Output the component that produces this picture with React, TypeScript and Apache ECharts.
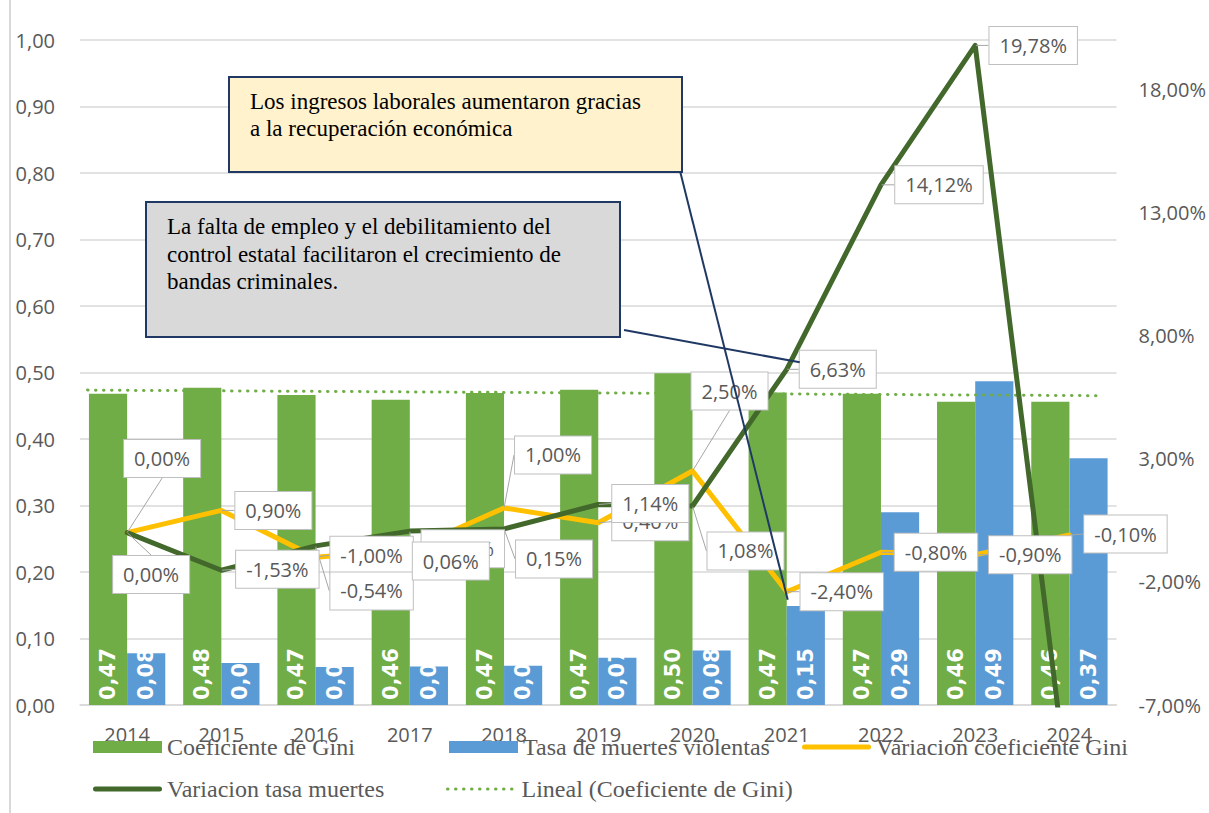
import { useEffect, useRef } from 'react';
import * as echarts from 'echarts';

const years = ['2014', '2015', '2016', '2017', '2018', '2019', '2020', '2021', '2022', '2023', '2024'];
const gini = [0.468, 0.477, 0.466, 0.459, 0.469, 0.474, 0.499, 0.470, 0.468, 0.456, 0.456];
const tasa = [0.078, 0.063, 0.057, 0.058, 0.059, 0.071, 0.082, 0.149, 0.290, 0.487, 0.371];
const varGini = [0.0, 0.9, -1.0, -0.7, 1.0, 0.4, 2.5, -2.4, -0.8, -0.9, -0.1];
const varTasa = [0.0, -1.53, -0.54, 0.06, 0.15, 1.14, 1.08, 6.63, 14.12, 19.78, -10.9];
const rightTickValues = [-7, -2, 3, 8, 13, 18];

const NAME_GINI = 'Coeficiente de Gini';
const NAME_TASA = 'Tasa de muertes violentas';
const NAME_VGINI = 'Variacion coeficiente Gini';
const NAME_VTASA = 'Variacion tasa muertes';
const NAME_TREND = 'Lineal (Coeficiente de Gini)';

// label placement (pixel offsets from each point) – layout, not data
const yellowLabelOffsets = [[35, -74], [52, 0], [56, -2], [53, -1], [49, -53], [52, -1], [37, -80], [55, 0], [55, 0], [55, 0], [56, -1]];
const greenLabelOffsets = [[24, 42], [56, -1], [56, 45], [41, 30], [50, 30], [52, -1], [53, 45], [51, 0], [58, 0], [58, 0], [0, 0]];

// legend slots (layout)
const legendSlots = [
  { name: NAME_GINI, left: 88, top: 730, kind: 'bar' },
  { name: NAME_TASA, left: 444, top: 730, kind: 'bar' },
  { name: NAME_VGINI, left: 797, top: 730, kind: 'line' },
  { name: NAME_VTASA, left: 88, top: 772, kind: 'line' },
  { name: NAME_TREND, left: 441, top: 772, kind: 'trend' },
];

const fmt2 = (v: number) => v.toFixed(2).replace('.', ',');
const pct = (v: number) => fmt2(v) + '%';

function linearFit(values: number[]) {
  const n = values.length;
  const mx = (n - 1) / 2;
  const my = values.reduce((a, b) => a + b, 0) / n;
  let sxy = 0;
  let sxx = 0;
  values.forEach((v, i) => {
    sxy += (i - mx) * (v - my);
    sxx += (i - mx) * (i - mx);
  });
  const slope = sxy / sxx;
  return (x: number) => my + slope * (x - mx);
}

const trend = linearFit(gini);
const trendStart = -0.42;
const trendEnd = 10.32;

const axisFont = 'Open Sans';
const grey = '#595959';
const gridColor = '#D9D9D9';
const C_GINI = '#70AD47';
const C_TASA = '#5B9BD5';
const C_VGINI = '#FFC000';
const C_VTASA = '#43682B';

const pointLabel = {
  show: true,
  position: 'inside',
  formatter: (p: any) => pct(p.value),
  fontFamily: axisFont,
  fontSize: 20,
  color: grey,
  backgroundColor: '#FFFFFF',
  borderColor: '#BFBFBF',
  borderWidth: 1,
  padding: [6, 10],
  lineHeight: 25,
};

const barLabel = {
  show: true,
  position: 'insideBottom',
  rotate: 90,
  align: 'left',
  verticalAlign: 'middle',
  distance: 5,
  color: '#FFFFFF',
  fontWeight: 'bold',
  fontFamily: 'DejaVu Sans',
  fontSize: 21,
  formatter: (p: any) => fmt2(p.value),
};

const legendText = {
  fontFamily: 'Liberation Serif',
  fontSize: 24,
  color: grey,
};

const roundLineIcon = 'path://M2.5,0 H66.5 A2.5,2.5 0 0 1 66.5,5 H2.5 A2.5,2.5 0 0 1 2.5,0 Z';

const legends = legendSlots.map((s) => {
  let item: any = { name: s.name };
  if (s.kind === 'bar') item = { name: s.name, icon: 'rect' };
  if (s.kind === 'line') item = { name: s.name, icon: roundLineIcon };
  if (s.kind === 'trend') item = { name: s.name, itemStyle: { opacity: 0 }, lineStyle: { width: 3 } };
  return {
    left: s.left,
    top: s.top,
    orient: 'horizontal',
    itemWidth: 69,
    itemHeight: 12,
    selectedMode: false,
    textStyle: legendText,
    data: [item],
  };
});

const option: any = {
  animation: false,
  backgroundColor: '#FFFFFF',
  grid: { left: 80, right: 92, top: 40, bottom: 108, containLabel: false },
  legend: legends,
  xAxis: [
    {
      type: 'category',
      data: years,
      boundaryGap: true,
      axisLine: { show: true, lineStyle: { color: gridColor, width: 1.5 } },
      axisTick: { show: false },
      axisLabel: { fontFamily: axisFont, fontSize: 20, color: grey, margin: 19 },
    },
    {
      type: 'value',
      min: -0.5,
      max: 10.5,
      show: false,
    },
  ],
  yAxis: [
    {
      type: 'value',
      min: 0,
      max: 1,
      interval: 0.1,
      axisLine: { show: false },
      axisTick: { show: false },
      splitLine: { show: true, lineStyle: { color: gridColor, width: 1.5 } },
      axisLabel: {
        fontFamily: axisFont,
        fontSize: 20,
        color: grey,
        margin: 25,
        formatter: (v: number) => fmt2(v),
      },
    },
    {
      type: 'value',
      min: -7,
      max: 20,
      position: 'right',
      axisLine: { show: false },
      axisTick: { show: false },
      splitLine: { show: false },
      axisLabel: {
        fontFamily: axisFont,
        fontSize: 20,
        color: grey,
        margin: 22,
        customValues: rightTickValues,
        formatter: (v: number) => pct(v),
      },
    },
  ],
  series: [
    {
      name: NAME_GINI,
      type: 'bar',
      xAxisIndex: 0,
      yAxisIndex: 0,
      data: gini,
      barGap: '0%',
      barCategoryGap: '19%',
      itemStyle: { color: C_GINI },
      label: barLabel,
    },
    {
      name: NAME_TASA,
      type: 'bar',
      xAxisIndex: 0,
      yAxisIndex: 0,
      data: tasa,
      barGap: '0%',
      barCategoryGap: '19%',
      itemStyle: { color: C_TASA },
      label: barLabel,
    },
    {
      name: NAME_TREND,
      type: 'line',
      xAxisIndex: 1,
      yAxisIndex: 0,
      data: [
        [trendStart, trend(trendStart)],
        [trendEnd, trend(trendEnd)],
      ],
      symbol: 'none',
      lineStyle: { color: C_GINI, width: 3, type: [0.5, 7.5], cap: 'round' },
      itemStyle: { color: C_GINI },
    },
    {
      name: NAME_VGINI,
      type: 'line',
      xAxisIndex: 0,
      yAxisIndex: 1,
      data: varGini,
      symbol: 'circle',
      symbolSize: 1,
      showSymbol: true,
      lineStyle: { color: C_VGINI, width: 5, cap: 'round', join: 'round' },
      itemStyle: { color: C_VGINI },
      label: pointLabel,
      labelLine: { show: true, lineStyle: { color: '#A6A6A6', width: 1 } },
      labelLayout: (params: any) => {
        const o = yellowLabelOffsets[params.dataIndex] || [0, 0];
        return { dx: o[0], dy: o[1] };
      },
    },
    {
      name: NAME_VTASA,
      type: 'line',
      xAxisIndex: 0,
      yAxisIndex: 1,
      data: varTasa.map((v) => (v < -7 ? { value: v, label: { show: false }, labelLine: { show: false } } : v)),
      symbol: 'circle',
      symbolSize: 1,
      showSymbol: true,
      clip: true,
      lineStyle: { color: C_VTASA, width: 5, cap: 'round', join: 'round' },
      itemStyle: { color: C_VTASA },
      label: pointLabel,
      labelLine: { show: true, lineStyle: { color: '#A6A6A6', width: 1 } },
      labelLayout: (params: any) => {
        const o = greenLabelOffsets[params.dataIndex] || [0, 0];
        return { dx: o[0], dy: o[1] };
      },
    },
  ],
  graphic: [
    {
      id: 'frame',
      type: 'line',
      shape: { x1: 10, y1: 0, x2: 10, y2: 813 },
      style: { stroke: gridColor, lineWidth: 2 },
      z: 1,
    },
    {
      id: 'box1',
      type: 'rect',
      shape: { x: 229, y: 77, width: 453, height: 95 },
      style: { fill: '#FFF2CC', stroke: '#1F3864', lineWidth: 2 },
      z: 100,
    },
    {
      id: 'box1text',
      type: 'text',
      x: 250,
      y: 88,
      style: {
        text: 'Los ingresos laborales aumentaron gracias\na la recuperación económica',
        fontFamily: 'Liberation Serif',
        fontSize: 23,
        lineHeight: 27,
        fill: '#000000',
        verticalAlign: 'top',
        align: 'left',
      },
      z: 101,
    },
    {
      id: 'box2',
      type: 'rect',
      shape: { x: 146, y: 202, width: 474, height: 135 },
      style: { fill: '#D9D9D9', stroke: '#1F3864', lineWidth: 2 },
      z: 100,
    },
    {
      id: 'box2text',
      type: 'text',
      x: 167,
      y: 213,
      style: {
        text: 'La falta de empleo y el debilitamiento del\ncontrol estatal facilitaron el crecimiento de\nbandas criminales.',
        fontFamily: 'Liberation Serif',
        fontSize: 23,
        lineHeight: 27.5,
        fill: '#000000',
        verticalAlign: 'top',
        align: 'left',
      },
      z: 101,
    },
  ],
};

export default function App() {
  const ref = useRef<HTMLDivElement>(null);
  useEffect(() => {
    document.body.style.margin = '0';
    const chart = echarts.init(ref.current!, null, { renderer: 'svg' });
    chart.setOption(option);
    const a = chart.convertToPixel({ xAxisIndex: 0, yAxisIndex: 1 }, [years[7], varGini[7]]) as number[];
    const b = chart.convertToPixel({ xAxisIndex: 0, yAxisIndex: 1 }, [years[7], varTasa[7]]) as number[];
    chart.setOption({
      graphic: [
        {
          id: 'callout1',
          type: 'line',
          shape: { x1: 680, y1: 171, x2: a[0] + 1, y2: a[1] + 8 },
          style: { stroke: '#1F3864', lineWidth: 2 },
          z: 99,
        },
        {
          id: 'callout2',
          type: 'line',
          shape: { x1: 624, y1: 330, x2: b[0] + 13, y2: b[1] - 7 },
          style: { stroke: '#1F3864', lineWidth: 2 },
          z: 99,
        },
      ],
    });
    return () => chart.dispose();
  }, []);
  return <div ref={ref} style={{ width: 1209, height: 813 }} />;
}
